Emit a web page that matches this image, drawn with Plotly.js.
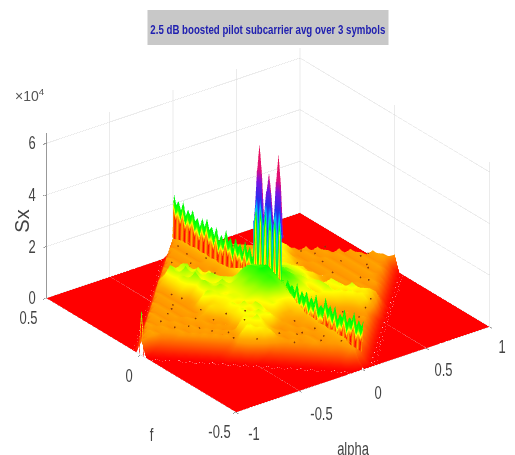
<!DOCTYPE html>
<html><head><meta charset="utf-8">
<script src="https://cdn.plot.ly/plotly-3.0.1.min.js"></script>
<style>html,body{margin:0;padding:0;background:#fff}#c{width:515px;height:455px}</style></head>
<body><div id="c"></div>
<script>
const alpha=[-1,-.95,-.9,-.85,-.8,-.75,-.7,-.65,-.6,-.55,-.5,-.45,-.4,-.35,-.3,-.25,-.2,-.15,-.1,-.05,-.01,0,.01,.05,.1,.15,.2,.25,.3,.35,.4,.45,.5,.55,.6,.65,.7,.75,.8,.85,.9,.95,1];
const f=[-.5,-.475,-.45,-.425,-.4,-.375,-.35,-.325,-.3,-.275,-.25,-.225,-.2,-.175,-.15,-.125,-.1,-.075,-.05,-.025,0,.025,.05,.075,.1,.125,.15,.175,.2,.225,.25,.275,.3,.325,.35,.375,.4,.425,.45,.475,.5];
// Sx (x 10^4) for each f row: alpha<0 part, the three cells around alpha=0, alpha>0 part. Outside: floor.
const sxLeft=[[],[.1],[.1,.4],[.1,.3,.5],[.1,.3,.5,.6],[.1,.3,.5,.6,.7],[.1,.3,.5,.7,.6,.7],[.1,.3,.5,.6,.7,.6,.7],[.1,.3,.5,.7,.6,.7,.6,.7],[.1,.3,.6,.7,.6,.7,.6,.7,.6],
[.2,.5,.9,1,.7,.6,.7,.6,.7,.6],[.2,.6,1,1.1,1,.8,.7,.6,.7,.6,.7],[.2,.5,1,1.2,1,1.1,.9,.7,.6,.7,.6,.7],[.1,.3,.5,.7,1,1.1,1.3,1,1.2,.9,.7,.7,.8],[.1,.3,.5,.7,.6,1,1.2,1,1.3,1.1,1,.9,.8,.8],
[.1,.3,.5,.7,.6,.7,.6,1,1.2,1.1,1.3,1,1.2,1.1,1],[.1,.3,.5,.7,.6,.7,.6,.7,1,1.2,1,1.3,1.1,1.2,1.2,1.3],[.1,.3,.5,.7,.6,.7,.6,.7,.6,1,1.1,1.3,1,1.1,1.3,1.5,1.6],[.1,.3,.5,.7,.6,.7,.6,.7,.6,.7,1,1.2,1,1.2,1.3,1.4,1.6,1.7],[.1,.3,.5,.6,.7,.6,.7,.6,.7,.6,.9,1,1.1,1.2,1.2,1.3,1.4,1.6,1.7],
[.6,.6,.7,.6,.7,.6,.7,.6,.7,.7,.8,1,1,1.1,1.2,1.2,1.3,1.5,1.6,1.8],
[.6,.7,.6,.7,.6,.7,.6,.7,.6,.7,.9,1,1.2,1.1,1.2,1.3,1.4,1.6,1.7],[.6,.7,.6,.7,.6,.7,.6,.7,.6,1.1,1.3,1.2,1.4,1.2,1.3,1.4,1.6,1.7],[.7,.6,.7,.6,.7,.6,.7,.6,.8,1.1,1.3,1.2,1.4,1.1,1.3,1.5,1.6],[.6,.7,.6,.7,.6,.7,.6,.7,1.1,1.4,1.2,1.1,1.3,1.2,1.1,1.3],[.7,.6,.7,.6,.7,.6,.7,1,1.3,1.1,1.4,1.2,1.1,1,.9],
[.6,.7,.6,.7,.6,1,1.2,1.5,1.1,1.3,1,.8,.8,.7],[.7,.6,.7,.6,1,1.3,1.1,1.4,1,1.2,.8,.7,.7],[.6,.7,.6,1,1.2,1.5,1.1,1.3,.9,.7,.6,.7],[.7,.6,1,1.3,1.1,1.4,1,.8,.7,.6,.7],[.7,.9,1.4,1.2,1.3,.8,.7,.6,.7,.6],
[.8,.9,.7,.8,.7,.6,.7,.6,.7],[.7,.7,.6,.7,.6,.7,.6,.7],[.6,.7,.6,.7,.6,.7,.6],[.7,.6,.7,.6,.7,.6],[.6,.7,.6,.7,.6],[.7,.6,.7,.6],[.6,.7,.6],[.7,.6],[.6],[]];
const sxMid=[[0,.1,0],[.2,.3,.2],[.6,.7,.6],[.7,.8,.7],[.8,.9,.8],[.8,.8,.8],[.8,.9,.8],[.8,.8,.8],[.8,.9,.8],[.8,.8,.8],
[.8,.9,.8],[.8,.9,.8],[.8,.9,.8],[.9,1,.9],[1,1.1,1],[1.1,1.2,1.1],[1.3,1.4,1.3],[1.5,1.6,1.5],[1.6,1.7,1.6],[1.7,1.8,1.7],
[1.8,1.9,1.8],
[1.7,1.8,1.7],[1.6,1.7,1.6],[1.5,1.6,1.5],[1.3,1.4,1.3],[1.1,1.2,1.1],[1,1.1,1],[.9,1,.9],[.8,.9,.8],[.8,.9,.8],[.8,.8,.8],
[.8,.9,.8],[.8,.8,.8],[.8,.9,.8],[.8,.8,.8],[.8,.9,.8],[.8,.8,.8],[.8,.8,.8],[.8,.8,.8],[.7,.8,.7],[.6,.7,.6]];
const sxRight=[[],[.2],[.4,.2],[.5,.4,.2],[.6,.7,.5,.2],[.7,.6,.6,.5,.2],[.6,.7,.6,.7,.5,.2],[.7,.6,.7,.6,.6,.5,.2],[.6,.7,.6,.7,.6,.7,.5,.2],[.6,.7,.6,.7,.6,.6,.7,.5,.2],
[.7,.6,.7,.6,.7,.6,.9,1,.7,.3],[.6,.7,.6,.7,.6,.8,1,1.1,1,.8,.3],[.7,.6,.7,.6,.9,1,1.2,1,1.1,1,.8,.3],[.8,.7,.7,.9,1.1,1.2,1,1.3,1,.7,.7,.5,.2],[.9,.8,1,1.1,1.3,1,1.2,1,.7,.6,.7,.6,.5,.2],
[1.1,1.1,1.2,1,1.3,1.1,1.2,1,.7,.6,.7,.6,.7,.5,.2],[1.3,1.2,1.2,1,1.3,1.1,1.2,.8,.7,.6,.7,.6,.7,.6,.5,.2],[1.6,1.5,1.3,1.1,1.2,1,.9,.7,.6,.7,.6,.7,.6,.7,.6,.5,.2],[1.7,1.6,1.4,1.3,1.1,1,.8,.7,.6,.7,.6,.7,.6,.7,.6,.7,.5,.2],[1.7,1.6,1.4,1.3,1.2,1,.9,.7,.6,.7,.6,.7,.6,.7,.6,.7,.6,.5,.2],
[1.8,1.6,1.5,1.3,1.2,1.1,1,.8,.7,.7,.6,.7,.6,.7,.6,.7,.6,.7,.6,.6],
[1.7,1.6,1.4,1.3,1.2,1.1,.9,.7,.6,.7,.6,.7,.6,.7,.6,.7,.6,.7,.6],[1.7,1.6,1.4,1.3,1.2,1.1,1,.7,.6,.7,.6,.7,.6,.7,.6,.7,.6,.7],[1.6,1.4,1.2,1.1,1.2,1,.9,.7,.6,.7,.6,.7,.6,.7,.6,.7,.6],[1.2,1.1,1,1.2,1.1,1,.9,.7,.6,.7,.6,.7,.6,.7,.6,.7],[.9,1,1.1,1.2,1,1.1,1,.8,.7,.6,.7,.6,.7,.6,.7],
[.7,.8,1,1.1,1.2,1,1.1,.9,.7,.6,.7,.6,.7,.6],[.7,.7,.9,1,1.1,1,1.2,1,.7,.6,.7,.6,.7],[.7,.6,.7,.9,1,1.1,1,1.2,1,.7,.6,.7],[.6,.7,.6,.8,1,1.1,1,1.1,.8,.7,.6],[.7,.6,.7,.6,.9,1.1,1,.8,.7,.6],
[.6,.7,.6,.7,.7,.8,.9,.7,.6],[.7,.6,.7,.6,.7,.6,.7,.6],[.6,.7,.6,.7,.6,.7,.6],[.7,.6,.7,.6,.7,.6],[.6,.7,.6,.7,.6],[.7,.6,.7,.6],[.6,.7,.6],[.6,.7],[.6],[]];
// ridge along alpha=0 (x 10^4)
const ridgeF=[-.5,-.4875,-.475,-.4625,-.45,-.4375,-.425,-.4125,-.4,-.3875,-.375,-.3625,-.35,-.3375,-.325,-.3125,-.3,-.2875,-.275,-.2625,-.25,-.2375,-.225,-.2125,-.2,-.1875,-.175,-.1625,-.15,-.1375,-.125,-.1125,-.1,-.0875,-.075,-.0625,-.05,-.0375,-.025,-.0125,0,.0125,.025,.0375,.05,.0625,.075,.0875,.1,.1125,.125,.1375,.15,.1625,.175,.1875,.2,.2125,.225,.2375,.25,.2625,.275,.2875,.3,.3125,.325,.3375,.35,.3625,.375,.3875,.4,.4125,.425,.4375,.45,.4625,.475,.4875,.5];
const ridgeTop=[1.9,1.6,1.8,1.5,2,1.6,1.7,1.4,1.9,1.5,1.6,1.3,1.8,1.4,1.7,1.5,1.9,1.4,1.5,1.3,1.8,1.4,1.6,1.3,1.7,1.4,1.6,1.3,1.8,1.4,1.6,1.5,1.7,1.4,1.6,1.5,1,1,1,1,1,1,1,1,1,1,2,1.7,2.1,1.8,2.2,1.7,2,1.8,2.1,1.6,2,1.8,2.2,1.7,1.9,1.6,2.1,1.7,2,1.8,2.2,1.8,2.1,1.7,2,1.8,2.2,1.9,2.1,1.8,2.3,1.9,2.2,2,2.4];
// three pilot peaks around alpha=0, f=0 (x 10^4)
const peakF=[-.075,-.0625,-.05,-.0375,-.025,-.0125,0,.0125,.025,.0375,.05,.0625,.075];
const peakTop=[3.2,5.2,6.35,5.2,3.4,4.6,5.4,4.6,3.4,5.2,6.3,5.2,3.2];
const peakLevels=[.7,3.2,4.2,4.8,5.3];
// thin spike at the alpha=-1 tip
const spikeA=[-1,-.995];
const spikeF=[-.012,0,.012];
const spikeZ=[[0,0],[1.7,1.7],[0,0]];
// dark specks on the plateau
const speckA=[-.7,-.62,-.55,-.48,-.41,-.36,-.3,-.24,-.18,-.12,-.6,-.52,-.44,-.33,-.27,-.2,-.08,-.42,-.3,-.15,.12,.2,.28,.35,.42,.5,.58,.1,.18,.3,.4,.48,.22,.34,.62,.7,.76,.55,.44,.3,.2,.1,-.1,-.2,-.3,-.4,-.5,-.6,-.7,-.25,-.35,-.45,.15,.25,.38,.52,.66,-.78,-.66,-.57,-.46,-.38,-.28,-.22,-.16,-.1,-.05,-.5,-.35,-.2,-.12,-.04,.06,.14,.24,.33,.45,.6,.72,.82,.5,.4,.28,.16,.08,-.08,-.16,-.28,-.38,-.52,-.64,-.8];
const speckF=[-.05,-.12,-.16,-.1,-.22,-.12,-.26,-.16,-.3,-.22,-.02,-.06,-.17,-.2,-.08,-.12,-.3,-.04,-.34,-.38,-.33,-.26,-.2,-.28,-.12,-.2,-.1,-.42,-.36,-.12,-.06,-.02,-.16,.04,.03,-.06,.02,.12,.2,.26,.32,.38,.36,.28,.24,.18,.12,.1,.06,.34,.14,.06,.22,.12,.1,.06,.14,-.03,-.08,-.2,-.25,-.14,-.18,-.3,-.06,-.36,-.42,.02,.06,.03,.2,.3,-.22,-.4,-.32,-.16,-.24,-.13,-.04,.02,.16,.24,.3,.18,.4,.42,.3,.2,.1,.16,.08,.03];
const speckZ=[.85,.85,.85,1.2,.85,1.2,.85,.85,.85,.85,.85,.85,1.2,.85,.85,.85,.85,.85,.85,.85,.85,.85,.85,.85,.85,.85,.85,.85,.85,.85,.85,.85,.85,.85,.85,.85,.85,.85,.85,.85,.85,.85,.85,.85,.85,.85,.85,.85,.85,.85,.85,.85,.85,.85,.85,.85,.85,.85,.85,.85,.85,.85,.85,.85,.85,.85,.85,.85,.85,.85,.85,.85,.85,.85,.85,.85,.85,.85,.85,.85,.85,.85,.85,.85,.85,.85,.85,.85,.85,.85,.85,.85];
const alphaTicks=[-1,-.5,0,.5,1];
const fTicks=[-.5,0,.5];
const zTicks=[0,2,4,6];
const titleText='2.5 dB boosted pilot subcarrier avg over 3 symbols';
const zeros=n=>new Array(n).fill(0);
const Sx=f.map((_,j)=>zeros(20-sxLeft[j].length).concat(sxLeft[j],sxMid[j],sxRight[j],zeros(20-sxRight[j].length)));
const FONT='"Liberation Sans",Arial,sans-serif';
const colors=[[0,'#ff0000'],[.1,'#ff9800'],[.12,'#ffa800'],[.19,'#ffff00'],[.3,'#00ff00'],[.5,'#00c0ff'],[.62,'#2030f0'],[.73,'#8010e0'],[.83,'#e0107a'],[1,'#e8105a']];
const flat={ambient:1,diffuse:0,specular:0,roughness:1,fresnel:0};
const surf=o=>Object.assign({type:'surface',cmin:0,cmax:6,colorscale:colors,showscale:false,hoverinfo:'skip',lighting:flat},o);
const ax={showbackground:false,gridcolor:'#d8d8d8',gridwidth:1,zeroline:false,showline:false,ticks:'outside',ticklen:4,tickcolor:'#333',showspikes:false,showticklabels:false,title:{text:''}};
const tf={family:FONT,size:18,color:'#444'};
const lab=(x,y,z,text,xshift,yshift,extra)=>Object.assign({x,y,z,text,xshift,yshift,showarrow:false,xanchor:'center',yanchor:'middle',font:tf},extra||{});
const sceneAnn=[
 lab(-1,.5,0,'0',-14,0),lab(-1,.5,2,'2',-14,0),lab(-1,.5,4,'4',-14,0),lab(-1,.5,6,'6',-14,0),
 lab(-1,.5,0,'0.5',-17,-20),lab(-1,0,0,'0',-12,-21),lab(-1,-.5,0,'-0.5',-16,-20),
 lab(-1,-.5,0,'-1',18,-22),lab(-.5,-.5,0,'-0.5',22,-23),lab(0,-.5,0,'0',15,-23),lab(.5,-.5,0,'0.5',17,-22),lab(1,-.5,0,'1',12,-20),
 lab(0,-.5,0,'alpha',-9,-79),
 lab(-1,0,0,'f',11,-80),
 lab(-1,.5,3,'Sx',-24,0,{textangle:-90,font:{family:FONT,size:20,color:'#444'}})
];
Plotly.newPlot('c',[
 surf({x:alpha,y:f,z:Sx}),
 surf({x:[-.006,-.002,.002,.006],y:ridgeF,z:ridgeTop.map(t=>[.7,Math.max(.7,t-.6),Math.max(.7,t-.3),t]),surfacecolor:ridgeTop.map((t,i)=>[i%2?.05:.75,i%2?.05:.75,1.7,1.9])}),
 surf({x:[-.006,-.003,0,.003,.006,.008],y:peakF,z:peakTop.map(t=>peakLevels.map(l=>Math.min(l,t)).concat([t])),
   surfacecolor:peakTop.map((t,i)=>[i%2?.3:.9,i%2?1:3.6,3.8,4.3,4.9,t])}),
 surf({x:spikeA,y:spikeF,z:spikeZ}),
 {type:'scatter3d',mode:'markers',x:speckA,y:speckF,z:speckZ,marker:{size:1,color:'#8a3a08'},hoverinfo:'skip'}
],
{width:515,height:455,margin:{l:0,r:0,t:0,b:0},paper_bgcolor:'#fff',showlegend:false,
 shapes:[{type:'rect',xref:'paper',yref:'paper',x0:147.5/515,x1:388.5/515,y0:1-45/455,y1:1-10/455,fillcolor:'#c8c8c8',line:{width:0},layer:'above'}],
 scene:{domain:{x:[.04,1],y:[.011,.978]},aspectmode:'manual',aspectratio:{x:1.44,y:1.44,z:.8405},
  camera:{projection:{type:'orthographic'},eye:{x:-1.07,y:-1.43,z:.9},center:{x:0,y:0,z:0},up:{x:0,y:0,z:1}},
  xaxis:Object.assign({},ax,{range:[-1,1],tickvals:alphaTicks}),
  yaxis:Object.assign({},ax,{range:[-.5,.5],tickvals:fTicks}),
  zaxis:Object.assign({},ax,{range:[0,6.4],tickvals:zTicks,showline:true,linecolor:'#333'}),
  annotations:sceneAnn
 },
 annotations:[
  {xref:'paper',yref:'paper',x:267.5/515,y:1-30/455,xanchor:'center',yanchor:'middle',showarrow:false,text:'<b>'+titleText+'</b>',font:{family:FONT,size:13,color:'#2020b0'}},
  {xref:'paper',yref:'paper',x:30/515,y:1-95/455,xanchor:'center',yanchor:'middle',showarrow:false,text:'×10<sup>4</sup>',font:{family:FONT,size:14,color:'#555'}}
 ]},{displayModeBar:false,plotGlPixelRatio:1});
// the reference's lettering is condensed
function condense(){document.querySelectorAll('.annotation-text').forEach(t=>{
  if(t.dataset.c||t.textContent==='Sx'||t.querySelector('tspan[style*="baseline"],tspan[dy]'))return;
  t.dataset.c='1';const w=t.getComputedTextLength();const bold=t.textContent===titleText;
  t.setAttribute('textLength',bold?235:w*.72);t.setAttribute('lengthAdjust','spacingAndGlyphs');});}
setInterval(condense,60);
</script></body></html>
